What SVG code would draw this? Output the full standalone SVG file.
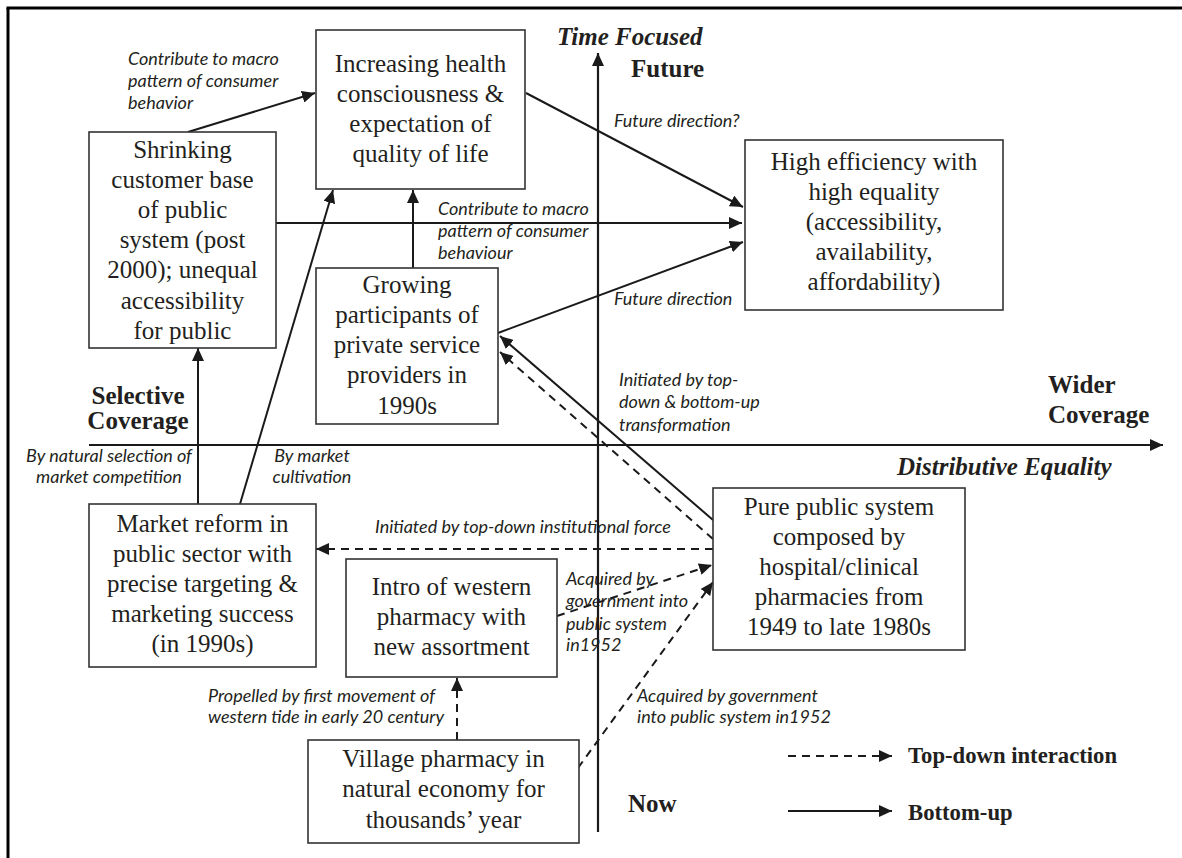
<svg xmlns="http://www.w3.org/2000/svg" width="1182" height="858" viewBox="0 0 1182 858">
<style>
.box{fill:#fff;stroke:#333;stroke-width:1.6}
.t{font-family:"Liberation Serif","Times New Roman",serif;font-size:25px;fill:#231f20;text-anchor:middle}
.b{font-family:"Liberation Serif","Times New Roman",serif;font-size:25px;font-weight:bold;fill:#231f20}
.lg{font-size:22.7px}
.bi{font-family:"Liberation Serif","Times New Roman",serif;font-size:25px;font-weight:bold;font-style:italic;fill:#231f20}
.lab{font-family:Lato,"Open Sans",sans-serif;font-size:18px;font-style:italic;fill:#231f20}
.c{fill:none;stroke:#1a1a1a;stroke-width:2}
.d{fill:none;stroke:#1a1a1a;stroke-width:2;stroke-dasharray:8 6}
.ax{fill:none;stroke:#1a1a1a;stroke-width:2.2}
</style>
<defs>
<marker id="ah" markerUnits="userSpaceOnUse" markerWidth="14" markerHeight="12" refX="13" refY="6" orient="auto">
<path d="M0,0 L13,6 L0,12 z" fill="#1a1a1a"/>
</marker>
</defs>
<rect width="1182" height="858" fill="#fff"/>
<g id="frame">
<line x1="6.5" y1="8" x2="1182" y2="8" stroke="#000" stroke-width="3"/>
<line x1="8" y1="8" x2="8" y2="858" stroke="#000" stroke-width="3"/>
</g>
<g id="axes">
<line class="ax" x1="598" y1="832" x2="598" y2="53" marker-end="url(#ah)"/>
<line class="ax" x1="89" y1="445" x2="1163" y2="445" marker-end="url(#ah)"/>
<text class="bi" x="557" y="45">Time Focused</text>
<text class="b" x="631" y="77">Future</text>
<text class="b" x="628" y="812">Now</text>
<text class="b" text-anchor="middle"><tspan x="138" y="404">Selective</tspan><tspan x="138" y="429">Coverage</tspan></text>
<text class="b"><tspan x="1048" y="393">Wider</tspan><tspan x="1048" y="423">Coverage</tspan></text>
<text class="bi" x="897" y="475">Distributive Equality</text>
</g>
<g id="connectors">
<line class="c" x1="188" y1="132" x2="315" y2="93" marker-end="url(#ah)"/>
<line class="c" x1="240" y1="504" x2="333" y2="190" marker-end="url(#ah)"/>
<line class="c" x1="198" y1="504" x2="198" y2="348" marker-end="url(#ah)"/>
<line class="c" x1="413" y1="268" x2="413" y2="190" marker-end="url(#ah)"/>
<line class="c" x1="526" y1="93" x2="743" y2="207" marker-end="url(#ah)"/>
<line class="c" x1="276" y1="223" x2="742" y2="223" marker-end="url(#ah)"/>
<line class="c" x1="498" y1="333" x2="743" y2="242" marker-end="url(#ah)"/>
<line class="c" x1="713" y1="520" x2="500" y2="336" marker-end="url(#ah)"/>
<line class="d" x1="713" y1="539" x2="500" y2="352" marker-end="url(#ah)"/>
<line class="d" x1="713" y1="549" x2="316" y2="549" marker-end="url(#ah)"/>
<line class="d" x1="557" y1="616" x2="712" y2="565" marker-end="url(#ah)"/>
<line class="d" x1="578" y1="768" x2="713" y2="582" marker-end="url(#ah)"/>
<line class="d" x1="457" y1="740" x2="457" y2="678" marker-end="url(#ah)"/>
</g>
<g id="labels">
<text class="lab"><tspan x="128" y="65">Contribute to macro</tspan><tspan x="128" y="87">pattern of consumer</tspan><tspan x="128" y="109">behavior</tspan></text>
<text class="lab" x="614" y="127">Future direction?</text>
<text class="lab"><tspan x="438" y="215">Contribute to macro</tspan><tspan x="438" y="237">pattern of consumer</tspan><tspan x="438" y="259">behaviour</tspan></text>
<text class="lab" x="614" y="305">Future direction</text>
<text class="lab"><tspan x="619" y="386">Initiated by top-</tspan><tspan x="619" y="408">down &amp; bottom-up</tspan><tspan x="619" y="431">transformation</tspan></text>
<text class="lab" text-anchor="middle"><tspan x="109" y="462">By natural selection of</tspan><tspan x="109" y="483">market competition</tspan></text>
<text class="lab" text-anchor="middle"><tspan x="312" y="462">By market</tspan><tspan x="312" y="483">cultivation</tspan></text>
<text class="lab" x="375" y="533">Initiated by top-down institutional force</text>
<text class="lab"><tspan x="566" y="585">Acquired by</tspan><tspan x="566" y="607">government into</tspan><tspan x="566" y="630">public system</tspan><tspan x="566" y="651">in1952</tspan></text>
<text class="lab"><tspan x="637" y="702">Acquired by government</tspan><tspan x="637" y="723">into public system in1952</tspan></text>
<text class="lab"><tspan x="208" y="702">Propelled by first movement of</tspan><tspan x="208" y="723">western tide in early 20 century</tspan></text>
</g>
<g id="n-health">
<rect class="box" x="316" y="30" width="209" height="159"/>
<text class="t"><tspan x="420.5" y="72">Increasing health</tspan><tspan x="420.5" y="102">consciousness &amp;</tspan><tspan x="420.5" y="132">expectation of</tspan><tspan x="420.5" y="162">quality of life</tspan></text>
</g>
<g id="n-shrinking">
<rect class="box" x="89" y="132" width="187" height="216"/>
<text class="t"><tspan x="182.5" y="158">Shrinking</tspan><tspan x="182.5" y="188">customer base</tspan><tspan x="182.5" y="218">of public</tspan><tspan x="182.5" y="248">system (post</tspan><tspan x="182.5" y="278">2000); unequal</tspan><tspan x="182.5" y="309">accessibility</tspan><tspan x="182.5" y="339">for public</tspan></text>
</g>
<g id="n-growing">
<rect class="box" x="316" y="268" width="182" height="156"/>
<text class="t"><tspan x="407" y="293">Growing</tspan><tspan x="407" y="323">participants of</tspan><tspan x="407" y="353">private service</tspan><tspan x="407" y="383">providers in</tspan><tspan x="407" y="414">1990s</tspan></text>
</g>
<g id="n-high">
<rect class="box" x="745" y="140" width="258" height="170"/>
<text class="t"><tspan x="874" y="170">High efficiency with</tspan><tspan x="874" y="200">high equality</tspan><tspan x="874" y="230">(accessibility,</tspan><tspan x="874" y="260">availability,</tspan><tspan x="874" y="290">affordability)</tspan></text>
</g>
<g id="n-market">
<rect class="box" x="89" y="504" width="227" height="163"/>
<text class="t"><tspan x="202.5" y="532">Market reform in</tspan><tspan x="202.5" y="562">public sector with</tspan><tspan x="202.5" y="592">precise targeting &amp;</tspan><tspan x="202.5" y="622">marketing success</tspan><tspan x="202.5" y="652">(in 1990s)</tspan></text>
</g>
<g id="n-intro">
<rect class="box" x="346" y="559" width="211" height="118"/>
<text class="t"><tspan x="451.5" y="595">Intro of western</tspan><tspan x="451.5" y="625">pharmacy with</tspan><tspan x="451.5" y="655">new assortment</tspan></text>
</g>
<g id="n-pure">
<rect class="box" x="713" y="488" width="252" height="162"/>
<text class="t"><tspan x="839" y="515">Pure public system</tspan><tspan x="839" y="545">composed by</tspan><tspan x="839" y="575">hospital/clinical</tspan><tspan x="839" y="605">pharmacies from</tspan><tspan x="839" y="635">1949 to late 1980s</tspan></text>
</g>
<g id="n-village">
<rect class="box" x="308" y="740" width="271" height="103"/>
<text class="t"><tspan x="443.5" y="767">Village pharmacy in</tspan><tspan x="443.5" y="797">natural economy for</tspan><tspan x="443.5" y="828">thousands’ year</tspan></text>
</g>
<g id="legend">
<line class="d" x1="788" y1="756" x2="892" y2="756" stroke-dasharray="6 5" marker-end="url(#ah)"/>
<line class="c" x1="788" y1="811" x2="892" y2="811" marker-end="url(#ah)"/>
<text class="b lg" x="908" y="763">Top-down interaction</text>
<text class="b lg" x="908" y="820">Bottom-up</text>
</g>
</svg>
